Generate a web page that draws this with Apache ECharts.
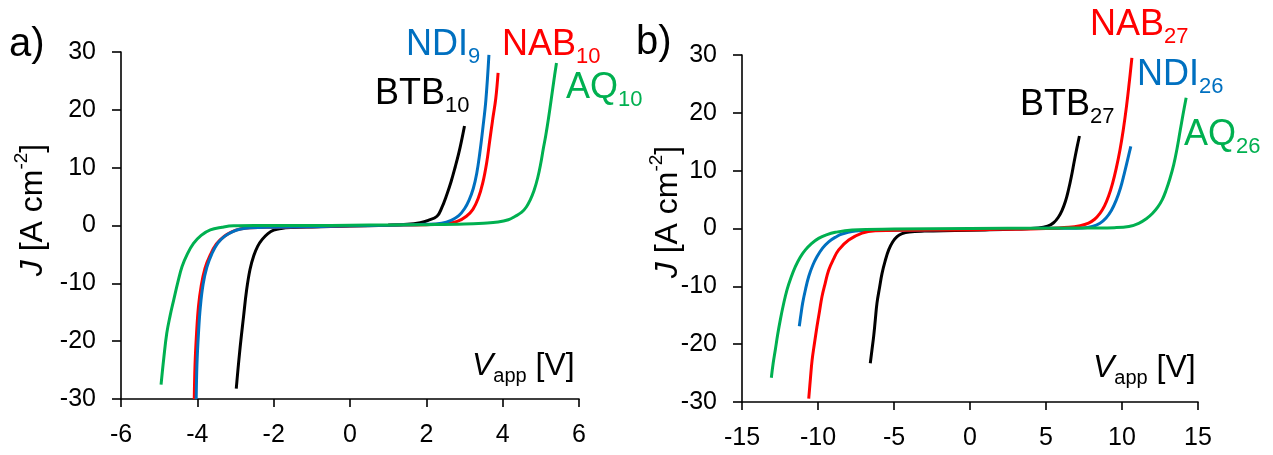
<!DOCTYPE html>
<html><head><meta charset="utf-8">
<script src="https://cdn.jsdelivr.net/npm/echarts@6/dist/echarts.min.js"></script>
<style>html,body{margin:0;padding:0;background:#fff}#c{width:1273px;height:455px}</style>
</head><body><div id="c"></div>
<script>
// ---------- Panel a) : V_app [V] and J [A cm-2] ----------
const vBTB10 = [-2.98,-2.89,-2.79,-2.71,-2.62,-2.52,-2.42,-2.3,-2.15,-2.0,-1.8,-1.5,-1.0,0,1.0,1.5,1.84,2.05,2.28,2.4,2.54,2.65,2.76,2.85,2.93,3.0];
const jBTB10 = [-28.2,-21.8,-15.8,-11.2,-7.6,-5.2,-3.6,-2.4,-1.4,-0.8,-0.5,-0.35,-0.25,-0.1,0.05,0.2,0.5,0.9,1.6,3.0,5.4,7.6,10.2,12.5,14.9,17.2];
const vNAB10 = [-4.08,-4.06,-4.02,-3.97,-3.9,-3.8,-3.67,-3.5,-3.3,-3.1,-2.88,-2.6,-2.0,-1.0,0,1.0,2.0,2.5,2.81,3.05,3.22,3.36,3.48,3.58,3.66,3.74,3.82,3.88];
const jNAB10 = [-30,-24,-18.6,-14,-10.5,-7.4,-5.2,-3.2,-1.9,-1.1,-0.6,-0.4,-0.3,-0.2,-0.05,0.05,0.15,0.3,0.7,1.6,2.8,4.7,7.4,10.8,14.6,18.4,22.0,26.4];
const vNDI9 = [-4.03,-4.01,-3.97,-3.92,-3.85,-3.75,-3.62,-3.46,-3.27,-3.07,-2.86,-2.6,-2.0,-1.0,0,1.0,2.0,2.4,2.65,2.85,3.0,3.12,3.23,3.32,3.4,3.48,3.56,3.64];
const jNDI9 = [-30,-24,-18.6,-14,-10.2,-7.2,-4.9,-3.0,-1.8,-1.05,-0.6,-0.4,-0.3,-0.2,-0.05,0.05,0.2,0.4,0.9,1.7,2.9,4.4,6.4,9.0,12.5,16.8,21.7,29.5];
const vAQ10 = [-4.95,-4.88,-4.8,-4.71,-4.62,-4.51,-4.4,-4.26,-4.1,-3.9,-3.66,-3.35,-3.05,-2.5,-1.0,0,1.0,2.0,3.0,3.5,3.88,4.15,4.33,4.5,4.62,4.72,4.82,4.92,5.0,5.06,5.13,5.2,5.27,5.34,5.41];
const jAQ10 = [-27.5,-23,-18.6,-15.5,-12.9,-9.8,-7.1,-4.9,-3.1,-1.7,-0.75,-0.3,-0.05,0,0,0.05,0.1,0.15,0.25,0.4,0.6,1.0,1.6,2.3,3.2,4.4,6.0,8.3,10.8,13.1,15.6,18.5,21.7,25,28.1];
// ---------- Panel b) ----------
const vBTB27 = [-6.56,-6.45,-6.34,-6.23,-6.12,-5.95,-5.79,-5.58,-5.35,-5.08,-4.8,-4.47,-4.0,-3,-1,1,3,4.5,5.1,5.5,5.8,6.05,6.28,6.48,6.67,6.85,7.03,7.2];
const jBTB27 = [-23.3,-21,-18.7,-15.8,-12.9,-10.2,-7.8,-5.6,-3.7,-2.3,-1.4,-0.9,-0.6,-0.45,-0.35,-0.25,-0.1,0.1,0.4,1.0,1.9,3.1,4.7,6.7,9.0,11.5,13.9,16.0];
const vNAB27 = [-10.61,-10.5,-10.39,-10.23,-10.07,-9.9,-9.74,-9.52,-9.3,-8.98,-8.64,-7.98,-7.1,-6.23,-4,-1,2,5,6.5,7.25,7.8,8.2,8.55,8.85,9.12,9.38,9.62,9.86,10.08,10.3,10.48,10.65];
const jNAB27 = [-29.4,-26,-22.8,-19.8,-17.0,-14.3,-11.8,-9.4,-7.2,-5.3,-3.7,-2.0,-0.8,-0.4,-0.3,-0.25,-0.15,0,0.2,0.5,0.95,1.6,2.6,3.9,5.6,7.8,10.4,13.5,17.0,21.2,25.3,29.5];
const vNDI26 = [-11.23,-11.12,-11.01,-10.82,-10.61,-10.35,-10.07,-9.7,-9.3,-8.85,-8.42,-7.32,-5,-2,1,4,6,7.4,8.05,8.55,8.95,9.3,9.62,9.9,10.15,10.38,10.58];
const jNDI26 = [-16.9,-14.8,-12.9,-10.5,-8.3,-6.4,-4.9,-3.4,-2.3,-1.5,-0.95,-0.4,-0.3,-0.2,-0.1,0,0.05,0.1,0.35,0.9,1.8,3.1,4.9,7.0,9.5,12.0,14.2];
const vAQ26 = [-13.07,-12.95,-12.81,-12.65,-12.48,-12.27,-12.04,-11.78,-11.49,-11.18,-10.83,-10.43,-9.96,-9.45,-8.86,-7.76,-5,0,5,8,9.5,10.45,11.1,11.6,12.0,12.35,12.65,12.9,13.15,13.4,13.62,13.82,14.02,14.22];
const jAQ26 = [-25.8,-23.3,-21.0,-18.3,-15.8,-13.1,-10.6,-8.5,-6.6,-5.0,-3.7,-2.6,-1.7,-1.1,-0.66,-0.26,-0.1,0,0.05,0.1,0.15,0.35,0.9,1.7,2.6,3.7,5.0,6.6,8.6,11.0,13.8,16.8,19.8,22.6];

const xTicksA = {min: -6, max: 6, interval: 2};
const xTicksB = {min: -15, max: 15, interval: 5};
const yTicks = {min: -30, max: 30, interval: 10};

const C = {black: '#000000', red: '#FF0000', blue: '#0070C0', green: '#00B050'};
const FF = '"Liberation Sans", Arial, sans-serif';

function zip(a, b) { return a.map((v, i) => [v, b[i]]); }

function xAxisCfg(g, t) {
  return {type: 'value', gridIndex: g, min: t.min, max: t.max, interval: t.interval,
    axisLine: {onZero: false, lineStyle: {color: '#000', width: 1.6}},
    axisTick: {show: true, length: 8, lineStyle: {color: '#000', width: 1.6}},
    axisLabel: {fontSize: 25, color: '#000', margin: 24, fontFamily: FF},
    splitLine: {show: false}};
}
function yAxisCfg(g) {
  return {type: 'value', gridIndex: g, min: yTicks.min, max: yTicks.max, interval: yTicks.interval,
    axisLine: {show: true, onZero: false, lineStyle: {color: '#000', width: 1.6}},
    axisTick: {show: true, length: 9, lineStyle: {color: '#000', width: 1.6}},
    axisLabel: {fontSize: 25, color: '#000', margin: 25, fontFamily: FF},
    splitLine: {show: false}};
}
function line(name, v, j, color, g) {
  return {name: name, type: 'line', xAxisIndex: g, yAxisIndex: g, data: zip(v, j),
    showSymbol: false, symbol: 'none', smooth: 0.4,
    lineStyle: {color: color, width: 3}, itemStyle: {color: color}, z: 3};
}
function lbl(x, baseline, main, sub, color) {
  return {type: 'text', x: x, y: baseline - 34, z: 10,
    style: {text: '{m|' + main + '}{s|' + sub + '}', fill: color, align: 'left', verticalAlign: 'top',
      rich: {m: {fontSize: 36, lineHeight: 42, fontFamily: FF, fill: color},
             s: {fontSize: 22, lineHeight: 22, height: 18, verticalAlign: 'bottom', fontFamily: FF, fill: color}}}};
}
function vTitle(x, baseline) {
  return {type: 'text', x: x, y: baseline - 30, z: 10,
    style: {text: '{v|V}{s|app}{n| [V]}', fill: '#000', align: 'left', verticalAlign: 'top',
      rich: {v: {fontSize: 32, fontStyle: 'italic', lineHeight: 38, fontFamily: FF, fill: '#000'},
             n: {fontSize: 32, lineHeight: 38, fontFamily: FF, fill: '#000'},
             s: {fontSize: 20, lineHeight: 20, height: 18, verticalAlign: 'bottom', fontFamily: FF, fill: '#000'}}}};
}
function jTitle(cx, cy) {
  return {type: 'text', x: cx, y: cy, rotation: Math.PI / 2, z: 10,
    style: {text: '{i|J}{n| [A cm}{p|-2}{n|]}', fill: '#000', align: 'center', verticalAlign: 'middle',
      rich: {i: {fontSize: 32, fontStyle: 'italic', lineHeight: 38, fontFamily: FF, fill: '#000'},
             n: {fontSize: 32, lineHeight: 38, fontFamily: FF, fill: '#000'},
             p: {fontSize: 19, lineHeight: 19, height: 16, verticalAlign: 'top', fontFamily: FF, fill: '#000'}}}};
}
function panelTitle(x, baseline, t) {
  return {type: 'text', x: x, y: baseline - 34, z: 10,
    style: {text: t, fontSize: 40, lineHeight: 40, fontFamily: FF, fill: '#000', align: 'left', verticalAlign: 'top'}};
}

const chart = echarts.init(document.getElementById('c'), null, {renderer: 'canvas'});
chart.setOption({
  backgroundColor: '#fff',
  animation: false,
  grid: [
    {left: 121, top: 52, width: 458, height: 347, outerBoundsMode: 'none', containLabel: false},
    {left: 742, top: 55, width: 456, height: 347, outerBoundsMode: 'none', containLabel: false}
  ],
  xAxis: [xAxisCfg(0, xTicksA), xAxisCfg(1, xTicksB)],
  yAxis: [yAxisCfg(0), yAxisCfg(1)],
  series: [
    line('BTB10', vBTB10, jBTB10, C.black, 0),
    line('NAB10', vNAB10, jNAB10, C.red, 0),
    line('NDI9', vNDI9, jNDI9, C.blue, 0),
    line('AQ10', vAQ10, jAQ10, C.green, 0),
    line('BTB27', vBTB27, jBTB27, C.black, 1),
    line('NDI26', vNDI26, jNDI26, C.blue, 1),
    line('NAB27', vNAB27, jNAB27, C.red, 1),
    line('AQ26', vAQ26, jAQ26, C.green, 1)
  ],
  graphic: [
    panelTitle(9, 59, 'a)'),
    panelTitle(636, 57, 'b)'),
    lbl(406, 58, 'NDI', '9', C.blue),
    lbl(502, 58, 'NAB', '10', C.red),
    lbl(375, 107, 'BTB', '10', C.black),
    lbl(566, 101, 'AQ', '10', C.green),
    lbl(1090, 38, 'NAB', '27', C.red),
    lbl(1137, 88, 'NDI', '26', C.blue),
    lbl(1020, 118, 'BTB', '27', C.black),
    lbl(1184, 148, 'AQ', '26', C.green),
    vTitle(472, 377),
    vTitle(1093, 379),
    jTitle(33, 210),
    jTitle(668, 212)
  ]
});
</script>
</body></html>
